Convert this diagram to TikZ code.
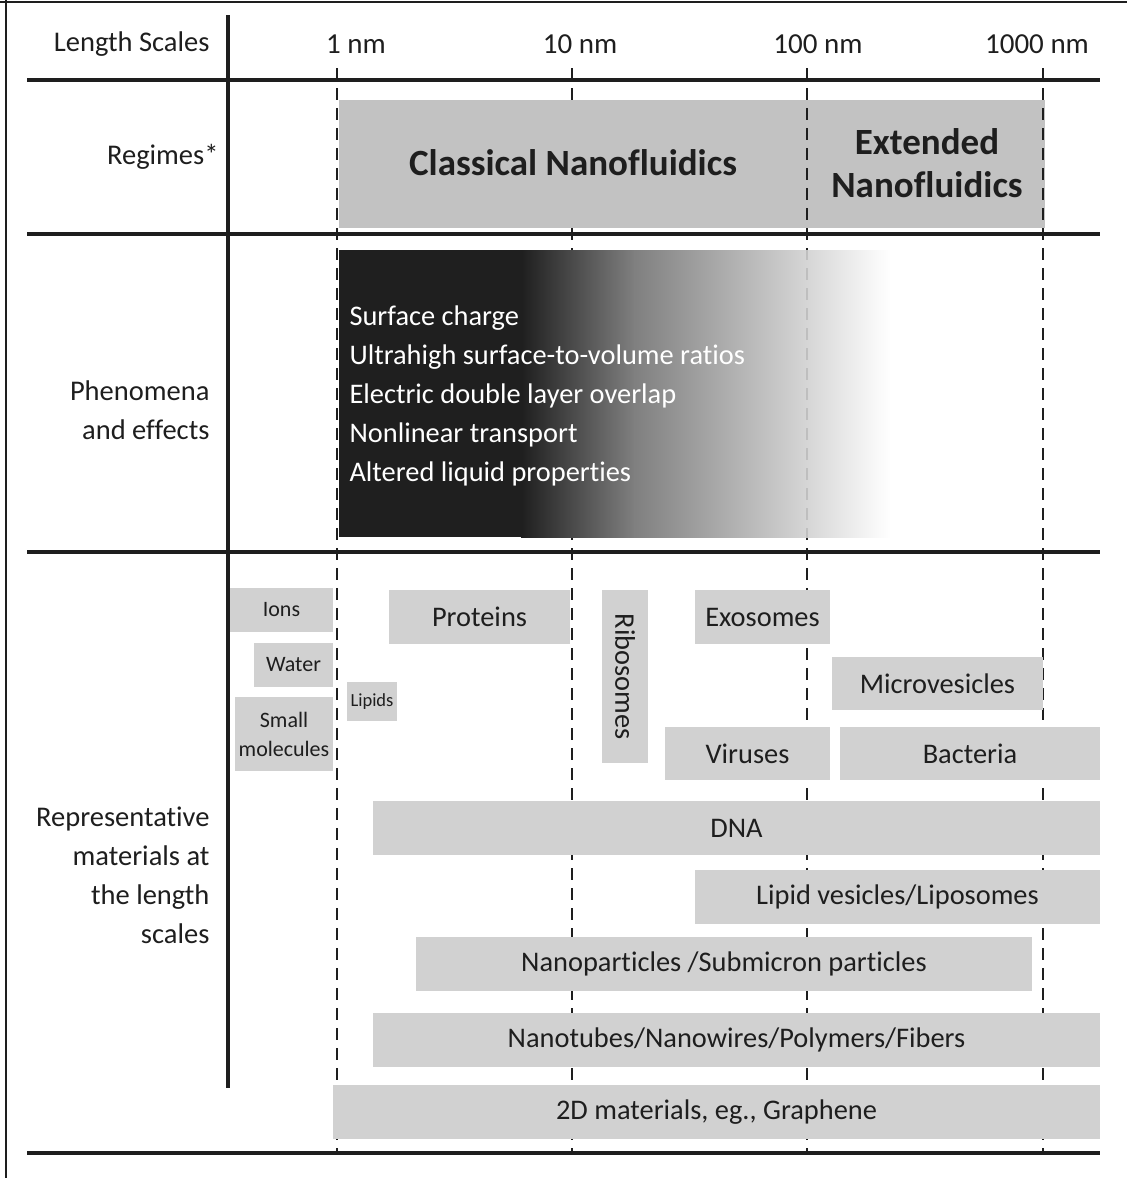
\documentclass[tikz,border=0pt]{standalone}
\usepackage{fontspec}
\setmainfont{Carlito}[Ligatures={NoCommon,NoRequired}]
\definecolor{ink}{HTML}{1E1E1E}
\definecolor{regimegray}{HTML}{C2C2C2}
\definecolor{matgray}{HTML}{D1D1D1}

\begin{document}
\begin{tikzpicture}[
    x=1pt, y=-1pt,
    rule/.style={draw=ink, line width=4pt},
    scaleline/.style={draw=ink, line width=2.6pt, dash pattern=on 12pt off 8pt},
    rowlabel/.style={anchor=east, align=right, text=ink, font=\fontsize{28.5}{39}\selectfont},
    tick/.style={text=ink, font=\fontsize{29}{32}\selectfont},
    regime/.style={text=ink, align=center, font=\fontsize{37}{43}\selectfont\bfseries},
    mat/.style={fill=matgray, text=ink, inner sep=0pt, align=center,
                font=\fontsize{28.4}{32}\selectfont},
    smallmat/.style={mat, font=\fontsize{22}{29}\selectfont}
]
    \useasboundingbox (0,0) rectangle (1127,1178);
    % frame
    \draw[ink, line width=1.5pt] (0,2) -- (1127,2);
    \draw[ink, line width=1.5pt] (6,0) -- (6,1178);

    % grid
    \draw[rule] (228,15) -- (228,1088);
    \foreach \y in {80,234,552,1153}
        \draw[rule] (27,\y) -- (1100,\y);
    \foreach \x in {337,572,807,1043}
        \draw[scaleline] (\x,68) -- (\x,1153);

    % regimes
    \fill[regimegray] (339,100) rectangle (1045,228);
    \foreach \x in {807,1043}
        \draw[scaleline] (\x,68) -- (\x,234);

    % phenomena fade
    \fill[black!88] (339,250) rectangle (522,537);
    \shade[left color=black!88, right color=black!50] (521,250) rectangle (635,537);
    \shade[left color=black!50, right color=white] (634,250) rectangle (890,537);
    \begin{scope}
        \clip (795,250) rectangle (820,537);
        \draw[scaleline, opacity=0.12] (807,68) -- (807,552);
    \end{scope}

    % header
    \node[rowlabel] (lscale) at (213,44) {Length Scales};
    \node[tick] (nm1) at (356,44) {1 nm};
    \node[tick] (nm10) at (580,44) {10 nm};
    \node[tick] (nm100) at (818,44) {100 nm};
    \node[tick] (nm1000) at (1037,44) {1000 nm};

    % rows
    \node[rowlabel] (reglabel) at (222,157) {Regimes*};
    \node[regime] (classical) at (573,163) {Classical Nanofluidics};
    \node[regime] (extended) at (927,163) {Extended\\Nanofluidics};

    \node[rowlabel] (phenlabel) at (213,410) {Phenomena\\and effects};
    \node[anchor=west, align=left, text=white, font=\fontsize{28.4}{39}\selectfont]
        (effects) at (346,396) {Surface charge\\Ultrahigh surface-to-volume ratios\\
        Electric double layer overlap\\Nonlinear transport\\Altered liquid properties};

    \node[rowlabel] (matlabel) at (213,875)
        {Representative\\materials at\\the length\\scales};

    % materials
    \node[smallmat, minimum width=103, minimum height=44] (ions) at (281.5,610) {Ions};
    \node[smallmat, minimum width=79, minimum height=44] (water) at (293.5,665) {Water};
    \node[smallmat, minimum width=98, minimum height=74] (smallmol) at (284,734) {Small\\molecules};
    \node[mat, font=\fontsize{18.5}{20}\selectfont, minimum width=50, minimum height=39]
        (lipids) at (372,701.5) {Lipids};
    \node[mat, minimum width=181, minimum height=54] (proteins) at (479.5,617) {Proteins};
    \node[mat, rotate=-90, minimum width=173, minimum height=46] (ribosomes) at (625,676.5) {Ribosomes};
    \node[mat, minimum width=135, minimum height=54] (exosomes) at (762.5,617) {Exosomes};
    \node[mat, minimum width=211, minimum height=53] (microves) at (937.5,683.5) {Microvesicles};
    \node[mat, minimum width=165, minimum height=53] (viruses) at (747.5,753.5) {Viruses};
    \node[mat, minimum width=260, minimum height=53] (bacteria) at (970,753.5) {Bacteria};
    \node[mat, minimum width=727, minimum height=54] (dna) at (736.5,828) {DNA};
    \node[mat, minimum width=405, minimum height=54] (liposomes) at (897.5,897) {Lipid vesicles/Liposomes};
    \node[mat, minimum width=616, minimum height=54] (nanopart) at (724,964) {Nanoparticles /Submicron particles};
    \node[mat, minimum width=727, minimum height=54] (nanotubes) at (736.5,1040) {Nanotubes/Nanowires/Polymers/Fibers};
    \node[mat, minimum width=767, minimum height=54] (graphene) at (716.5,1112) {2D materials, eg., Graphene};
\end{tikzpicture}
\end{document}
